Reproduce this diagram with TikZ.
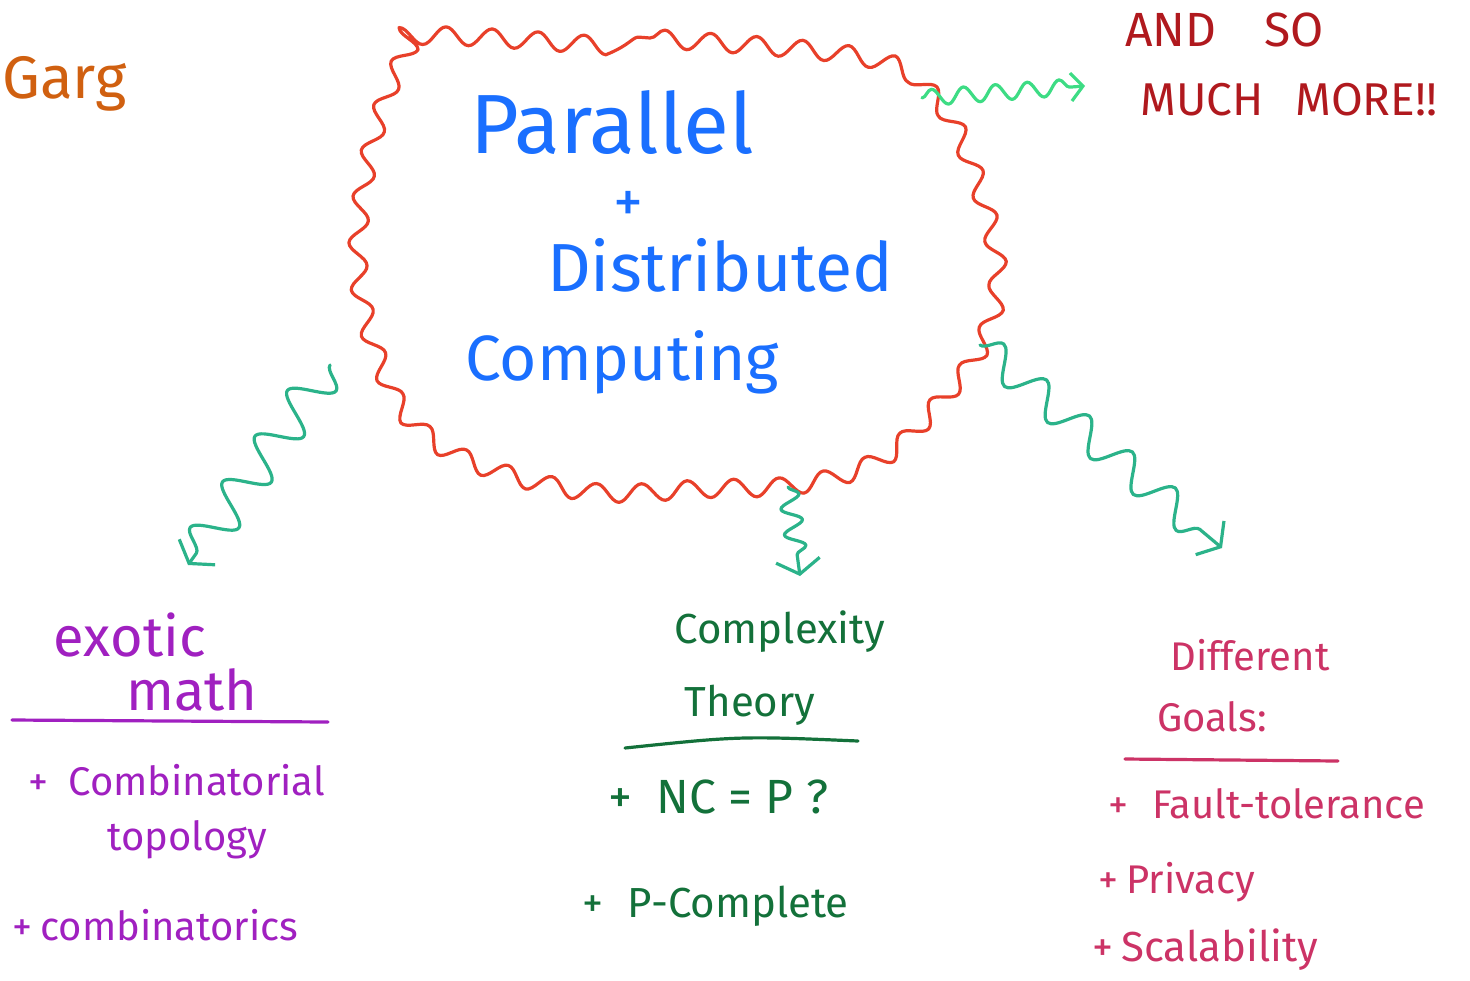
\documentclass[tikz,border=0pt]{standalone}
\usepackage{fontspec}
\setmainfont{Fira Sans}
\usetikzlibrary{positioning,calc,arrows.meta,decorations.pathmorphing}

\definecolor{cloudred}{HTML}{E8402A}
\definecolor{penblue}{HTML}{1A6FFF}
\definecolor{teal}{HTML}{2BB38A}
\definecolor{mint}{HTML}{3DDC84}
\definecolor{darkred}{HTML}{B0191E}
\definecolor{violet}{HTML}{A020C0}
\definecolor{forest}{HTML}{13713A}
\definecolor{rose}{HTML}{CC3366}
\definecolor{rust}{HTML}{D06010}

\newcommand{\fs}[1]{\fontsize{#1}{#1}\selectfont}

\begin{document}
\begin{tikzpicture}[
    x=0.5pt, y=-0.5pt,
    pen/.style={line width=1.6pt, line cap=round, line join=round},
    title/.style={font=\fs{34}, text=penblue, inner sep=0pt},
    topic/.style={inner sep=0pt},
    squiggle/.style={pen, color=teal, decorate,
        decoration={snake, amplitude=#1, segment length=28pt, post length=6pt}},
    tip/.style={-{Straight Barb[length=7pt, width=22pt]}},
]
\useasboundingbox (0,0) rectangle (1470,980);
\clip (0,0) rectangle (1470,980);

% cloud
\draw[pen, cloudred, decorate, decoration={snake, amplitude=4.5pt, segment length=23pt}]
  plot[smooth cycle, tension=0.6] coordinates {
    (425,25) (650,38) (860,58) (925,100) (962,175) (984,270) (968,342)
    (930,395) (870,455) (790,482) (690,487) (575,490) (462,462)
    (398,420) (365,360) (345,280) (347,200) (365,115) (395,45)};

% title
\node[title, font=\fs{42}] (par) at (612,122) {Parallel};
\node[title, font=\fs{30}] (plus) at (628,207) {+};
\node[title] (dist) at (720,265) {Distributed};
\node[title, font=\fs{32}] (comp) at (622,362) {Computing};

% top right
\node[topic, text=darkred, font=\fs{24}, anchor=west] (more1) at (1125,30) {AND\hspace{24pt}SO};
\node[topic, text=darkred, font=\fs{23}, anchor=west] (more2) at (1140,100) {MUCH\hspace{16pt}MORE!!};

% top left
\node[topic, text=rust, font=\fs{30}, anchor=west] (name) at (2,84) {Garg};

% exotic math
\node[topic, text=violet, font=\fs{28}] (exo) at (130,635) {exotic};
\node[topic, text=violet, font=\fs{28}] (mth) at (192,690) {math};
\draw[pen, violet] (12,720) -- (328,722);
\node[topic, text=violet, font=\fs{20}, anchor=west] (m1) at (28,780) {+\hspace{10pt}Combinatorial};
\node[topic, text=violet, font=\fs{20}] (m2) at (187,840) {topology};
\node[topic, text=violet, font=\fs{20}, anchor=west] (m3) at (12,925) {+\hspace{4pt}combinatorics};

% complexity
\node[topic, text=forest, font=\fs{21}] (cx) at (780,632) {Complexity};
\node[topic, text=forest, font=\fs{21}] (th) at (750,705) {Theory};
\draw[pen, forest] (625,748) .. controls (740,736) .. (858,741);
\node[topic, text=forest, font=\fs{24}, anchor=west] (c1) at (608,797) {+\hspace{12pt}NC = P ?};
\node[topic, text=forest, font=\fs{21}, anchor=west] (c2) at (582,906) {+\hspace{12pt}P-Complete};

% goals
\node[topic, text=rose, font=\fs{20}] (dif) at (1250,655) {Different};
\node[topic, text=rose, font=\fs{20}] (gl) at (1212,717) {Goals:};
\draw[pen, rose] (1125,759) -- (1338,761);
\node[topic, text=rose, font=\fs{20}, anchor=west] (g1) at (1108,804) {+\hspace{12pt}Fault-tolerance};
\node[topic, text=rose, font=\fs{20}, anchor=west] (g2) at (1098,882) {+\hspace{4pt}Privacy};
\node[topic, text=rose, font=\fs{21}, anchor=west] (g3) at (1092,950) {+\hspace{4pt}Scalability};

% squiggly arrows
\coordinate (sw) at (330,365);
\coordinate (bot) at (788,487);
\coordinate (se) at (980,345);
\coordinate (ne) at (922,98);
\coordinate (mathtip) at (188,565);
\coordinate (cxtip) at (800,576);
\coordinate (gltip) at (1222,548);
\coordinate (moretip) at (1085,86);

\draw[squiggle=10pt, tip] (sw) -- (mathtip);
\draw[squiggle=5pt, decoration={segment length=13pt}, tip] (bot) -- (cxtip);
\draw[squiggle=8pt, tip] (se) -- (gltip);
\draw[squiggle=4pt, color=mint, decoration={segment length=16pt}, -{Straight Barb[length=6pt, width=14pt]}] (ne) -- (moretip);
\end{tikzpicture}
\end{document}
